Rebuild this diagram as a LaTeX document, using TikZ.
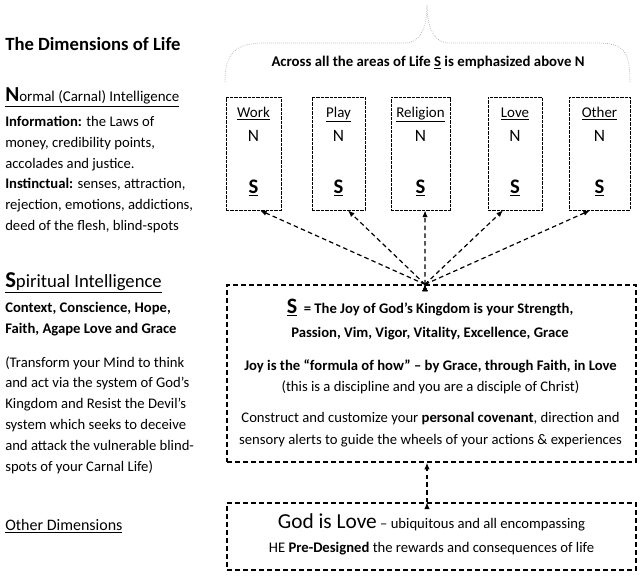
\documentclass[tikz,border=0pt]{standalone}
\usepackage{fontspec}
\setmainfont{Carlito}
\usetikzlibrary{arrows.meta}
\tikzset{
  txt/.style={inner sep=0pt, align=left, anchor=base west, font=\fontsize{11}{15.6}\selectfont},
  ctr/.style={inner sep=0pt, align=center, anchor=base},
  area/.style={draw, line width=0.6pt, dash pattern=on 2.5pt off 0.8pt, minimum height=84.75pt, inner sep=0pt},
  frame/.style={draw, line width=1pt, dash pattern=on 3.6pt off 2.4pt, minimum width=306.75pt, inner sep=0pt},
  link/.style={line width=0.9pt, dash pattern=on 3.4pt off 2.4pt, -{Latex[length=5pt,width=4pt]}}
}

\begin{document}
\begin{tikzpicture}[x=0.75pt, y=-0.75pt]
  \useasboundingbox (0,0) rectangle (641,575);

  % left column (multi-line nodes sit on their last baseline)
  \node[txt, font=\fontsize{14}{14}\bfseries] at (5,50.5) (title) {The Dimensions of Life};
  \node[txt, font=\fontsize{11.2}{12}\selectfont] at (5,101.5) (normal)
    {\underline{{\fontsize{16}{16}\bfseries N}ormal (Carnal) Intelligence}};
  \node[txt] at (5,230.5) (info) {\textbf{Information:} the Laws of\\
    money, credibility points,\\
    accolades and justice.\\
    \textbf{Instinctual:} senses, attraction,\\
    rejection, emotions, addictions,\\
    deed of the flesh, blind-spots};

  \node[txt, font=\fontsize{14}{14}\selectfont] at (5,287) (spirit)
    {\underline{{\fontsize{17}{17}\bfseries S}piritual Intelligence}};
  \node[txt, font=\fontsize{11}{15.6}\bfseries] at (5,333) (virtues)
    {Context, Conscience, Hope,\\ Faith, Agape Love and Grace};
  \node[txt] at (5,471) (transform) {(Transform your Mind to think\\
    and act via the system of God’s\\
    Kingdom and Resist the Devil’s\\
    system which seeks to deceive\\
    and attack the vulnerable blind-\\
    spots of your Carnal Life)};

  \node[txt, font=\fontsize{12}{12}\selectfont] at (5,530.5) (other) {\underline{Other Dimensions}};

  % brace over the areas
  \draw[gray!70, line width=0.5pt, densely dotted]
    (225,82) .. controls (225,52) and (236,43) .. (265,43) -- (405,43)
    .. controls (420,43) and (427,28) .. (427,5)
    .. controls (427,28) and (434,43) .. (449,43) -- (598,43)
    .. controls (624,43) and (630,52) .. (630,82);
  \node[ctr, font=\fontsize{11.1}{12}\bfseries] at (428,66) (across)
    {Across all the areas of Life \underline{S} is emphasized above N};

  % areas of life
  \node[area, minimum width=41.25pt] at (253.5,153.5) (work) {};
  \node[area, minimum width=39.75pt] at (338.5,153.5) (play) {};
  \node[area, minimum width=44.25pt] at (420.5,153.5) (religion) {};
  \node[area, minimum width=40.5pt] at (515,153.5) (love) {};
  \node[area, minimum width=45.75pt] at (599.5,153.5) (other_area) {};

  \node[ctr, font=\fontsize{11.2}{18}\selectfont] at (253.5,193) (work_txt)
    {\underline{Work}\\ {\fontsize{13}{18}\selectfont N}\\[21pt] {\fontsize{15.5}{18}\bfseries\underline{S}}};
  \node[ctr, font=\fontsize{11.2}{18}\selectfont] at (338.5,193) (play_txt)
    {\underline{Play}\\ {\fontsize{13}{18}\selectfont N}\\[21pt] {\fontsize{15.5}{18}\bfseries\underline{S}}};
  \node[ctr, font=\fontsize{11.2}{18}\selectfont] at (420.5,193) (religion_txt)
    {\underline{Religion}\\ {\fontsize{13}{18}\selectfont N}\\[21pt] {\fontsize{15.5}{18}\bfseries\underline{S}}};
  \node[ctr, font=\fontsize{11.2}{18}\selectfont] at (515,193) (love_txt)
    {\underline{Love}\\ {\fontsize{13}{18}\selectfont N}\\[21pt] {\fontsize{15.5}{18}\bfseries\underline{S}}};
  \node[ctr, font=\fontsize{11.2}{18}\selectfont] at (599.5,193) (other_txt)
    {\underline{Other}\\ {\fontsize{13}{18}\selectfont N}\\[21pt] {\fontsize{15.5}{18}\bfseries\underline{S}}};

  % joy of the kingdom
  \node[frame, minimum height=132.75pt] at (431.5,373.5) (joy) {};
  \node[ctr, font=\fontsize{11}{18}\bfseries] at (430,337) (joy_s)
    {{\fontsize{16.5}{18}\selectfont\underline{S}}\ \ = The Joy of God’s Kingdom is your Strength,\\
     Passion, Vim, Vigor, Vitality, Excellence, Grace};
  \node[ctr, font=\fontsize{11}{15.75}\selectfont] at (430.5,391) (joy_how)
    {\textbf{Joy is the “formula of how” – by Grace, through Faith, in Love}\\
     (this is a discipline and you are a disciple of Christ)};
  \node[ctr, font=\fontsize{11}{16.5}\selectfont] at (430.5,444) (covenant)
    {Construct and customize your \textbf{personal covenant}, direction and\\
     sensory alerts to guide the wheels of your actions \& experiences};

  % god is love
  \node[frame, minimum height=50.25pt] at (431.5,536.5) (god) {};
  \node[ctr, font=\fontsize{11}{18}\selectfont] at (431.5,552) (god_txt)
    {{\fontsize{16}{18}\selectfont God is Love} – ubiquitous and all encompassing\\
     HE \textbf{Pre-Designed} the rewards and consequences of life};

  \coordinate (hub) at ([xshift=-4.9pt]joy.north);
  \path[draw, link] (hub) edge ([xshift=4.9pt]work.south);
  \path[draw, link] (hub) edge ([xshift=7.1pt]play.south);
  \path[draw, link] (hub) edge ([xshift=3.4pt]religion.south);
  \path[draw, link] (hub) edge ([xshift=-9pt]love.south);
  \path[draw, link] (hub) edge ([xshift=-7.1pt]other_area.south);
  \path[draw, link] ([xshift=-3.4pt]god.north) edge ([xshift=-3.4pt]joy.south);

\end{tikzpicture}
\end{document}
